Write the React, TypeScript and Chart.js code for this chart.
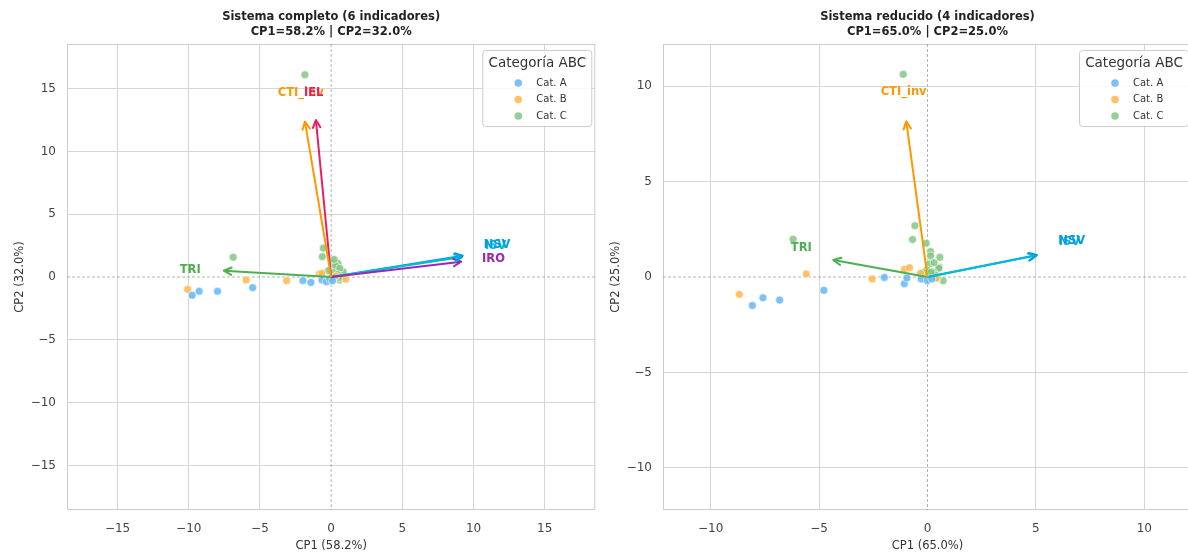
import React, { useEffect, useRef } from 'react';
import { Chart, registerables } from 'chart.js';

Chart.register(...registerables);

// ---------- shared ----------
const categories = ['Cat. A', 'Cat. B', 'Cat. C'];
const categoryColors = ['rgba(100,181,246,0.85)', 'rgba(255,183,77,0.85)', 'rgba(129,199,132,0.85)'];
const legendTitle = 'Categoría ABC';

// ---------- panel 1: sistema completo ----------
const fullTitle = ['Sistema completo (6 indicadores)', 'CP1=58.2% | CP2=32.0%'];
const fullXLabel = 'CP1 (58.2%)';
const fullYLabel = 'CP2 (32.0%)';
const fullLimit = 18.55;
const fullTicks = [-15, -10, -5, 0, 5, 10, 15];

const fullAX = [-9.76, -9.27, -7.98, -5.51, -1.98, -1.42, -0.65, -0.33, -0.1, 0.1];
const fullAY = [-1.46, -1.14, -1.14, -0.85, -0.29, -0.43, -0.24, -0.37, -0.15, -0.3];
const fullBX = [-10.08, -5.97, -3.12, -0.84, -0.65, 1.03, 0.3];
const fullBY = [-0.98, -0.24, -0.29, 0.24, 0.29, -0.18, 0.05];
const fullCX = [-1.84, -6.88, -0.55, -0.62, 0.21, 0.47, 0.33, 0.84, 0.61, 0.09, 0.3, 0.6, 0.15, 0.45, 0.75, -0.2, 0.2, 0.55];
const fullCY = [16.1, 1.57, 2.3, 1.62, 1.14, 1.09, 0.56, 0.42, -0.24, 0.16, 0.9, 0.7, 0.35, 0.2, -0.1, 0.5, 1.4, -0.05];

const fullLoadNames = ['CTI_inv', 'IEL', 'TRI', 'IRO', 'ISV', 'NSV'];
const fullLoadX = [-1.84, -1.07, -7.54, 9.13, 9.2, 9.24];
const fullLoadY = [12.37, 12.5, 0.5, 1.22, 1.6, 1.7];
const fullLabelX = [-2.14, -1.23, -9.9, 11.4, 11.55, 11.65];
const fullLabelY = [14.63, 14.63, 0.56, 1.43, 2.5, 2.55];
const fullLoadColors = ['#ff9800', '#e91e63', '#4caf50', '#9c27b0', '#00bcd4', '#039be5'];

// ---------- panel 2: sistema reducido ----------
const redTitle = ['Sistema reducido (4 indicadores)', 'CP1=65.0% | CP2=25.0%'];
const redXLabel = 'CP1 (65.0%)';
const redYLabel = 'CP2 (25.0%)';
const redLimit = 12.2;
const redTicks = [-10, -5, 0, 5, 10];

const redAX = [-8.08, -7.59, -6.82, -4.78, -1.99, -1.07, -0.95, -0.29, -0.01, 0.2];
const redAY = [-1.49, -1.09, -1.21, -0.7, -0.02, -0.35, -0.05, -0.1, -0.19, -0.1];
const redBX = [-8.68, -5.59, -2.55, -1.06, -0.83, -0.32, 0.4];
const redBY = [-0.91, 0.16, -0.1, 0.4, 0.49, 0.19, -0.05];
const redCX = [-1.12, -6.2, -0.58, -0.69, -0.06, 0.14, 0.14, 0.57, 0.08, 0.54, 0.52, 0.29, -0.02, -0.2, 0.35, 0.17, 0.72, 0.45, 0.3];
const redCY = [10.61, 1.98, 2.69, 1.96, 1.77, 1.33, 1.1, 1.03, 0.68, 0.51, 0.46, 0.23, 0.37, 0.23, 0.1, 0.26, -0.19, -0.07, 0.75];

const redLoadNames = ['CTI_inv', 'TRI', 'ISV', 'NSV'];
const redLoadX = [-0.98, -4.35, 5.0, 5.05];
const redLoadY = [8.15, 0.89, 1.12, 1.15];
const redLabelX = [-1.1, -5.82, 6.55, 6.65];
const redLabelY = [9.69, 1.5, 1.85, 1.9];
const redLoadColors = ['#ff9800', '#4caf50', '#00bcd4', '#039be5'];

const FONT = '"DejaVu Sans", "Liberation Sans", sans-serif';

type Panel = {
  title: string[];
  xLabel: string;
  yLabel: string;
  limit: number;
  ticks: number[];
  pts: { xs: number[]; ys: number[] }[];
  loadNames: string[];
  loadX: number[];
  loadY: number[];
  labelX: number[];
  labelY: number[];
  loadColors: string[];
  padRight: number;
  axisWidth: number;
};

const fullPanel: Panel = {
  title: fullTitle, xLabel: fullXLabel, yLabel: fullYLabel, limit: fullLimit, ticks: fullTicks,
  pts: [{ xs: fullAX, ys: fullAY }, { xs: fullBX, ys: fullBY }, { xs: fullCX, ys: fullCY }],
  loadNames: fullLoadNames, loadX: fullLoadX, loadY: fullLoadY, labelX: fullLabelX, labelY: fullLabelY,
  loadColors: fullLoadColors, padRight: 4, axisWidth: 67,
};

const redPanel: Panel = {
  title: redTitle, xLabel: redXLabel, yLabel: redYLabel, limit: redLimit, ticks: redTicks,
  pts: [{ xs: redAX, ys: redAY }, { xs: redBX, ys: redBY }, { xs: redCX, ys: redCY }],
  loadNames: redLoadNames, loadX: redLoadX, loadY: redLoadY, labelX: redLabelX, labelY: redLabelY,
  loadColors: redLoadColors, padRight: 8, axisWidth: 63,
};

function fmt(v: number) {
  return v < 0 ? '\u2212' + Math.abs(v) : String(v);
}

function makePlugin(p: Panel) {
  return {
    id: 'biplotDecor',
    beforeDatasetsDraw(chart: any) {
      const { ctx, chartArea: a, scales } = chart;
      const x0 = scales.x.getPixelForValue(0);
      const y0 = scales.y.getPixelForValue(0);
      ctx.save();
      ctx.strokeStyle = '#cccccc';
      ctx.lineWidth = 1;
      ctx.strokeRect(a.left + 0.5, a.top + 0.5, a.right - a.left - 1, a.bottom - a.top - 1);
      ctx.strokeStyle = 'rgba(128,128,128,0.75)';
      ctx.lineWidth = 0.8;
      ctx.setLineDash([3, 2]);
      ctx.beginPath();
      ctx.moveTo(x0, a.top);
      ctx.lineTo(x0, a.bottom);
      ctx.moveTo(a.left, y0);
      ctx.lineTo(a.right, y0);
      ctx.stroke();
      ctx.restore();
    },
    afterDatasetsDraw(chart: any) {
      const { ctx, scales } = chart;
      const bx = scales.x.getPixelForValue(0);
      const by = scales.y.getPixelForValue(0);
      ctx.save();
      // arrowheads
      p.loadNames.forEach((_n, i) => {
        const tx = scales.x.getPixelForValue(p.loadX[i]);
        const ty = scales.y.getPixelForValue(p.loadY[i]);
        const ang = Math.atan2(ty - by, tx - bx);
        const L = 8.5;
        const th = 0.45;
        ctx.strokeStyle = p.loadColors[i];
        ctx.lineWidth = 2;
        ctx.lineCap = 'round';
        ctx.lineJoin = 'round';
        ctx.beginPath();
        ctx.moveTo(tx - L * Math.cos(ang - th), ty - L * Math.sin(ang - th));
        ctx.lineTo(tx, ty);
        ctx.lineTo(tx - L * Math.cos(ang + th), ty - L * Math.sin(ang + th));
        ctx.stroke();
      });
      // labels
      ctx.font = 'bold 11.5px ' + FONT;
      ctx.textAlign = 'center';
      ctx.textBaseline = 'middle';
      p.loadNames.forEach((n, i) => {
        ctx.fillStyle = p.loadColors[i];
        ctx.fillText(n, scales.x.getPixelForValue(p.labelX[i]), scales.y.getPixelForValue(p.labelY[i]));
      });
      ctx.restore();
    },
    afterDraw(chart: any) {
      const { ctx, chartArea: a } = chart;
      const cx = (a.left + a.right) / 2;
      const cy = (a.top + a.bottom) / 2;
      ctx.save();
      // title
      ctx.fillStyle = '#222';
      ctx.font = 'bold 11.5px ' + FONT;
      ctx.textAlign = 'center';
      ctx.textBaseline = 'middle';
      ctx.fillText(p.title[0], cx, 17);
      ctx.fillText(p.title[1], cx, 32);
      // axis titles
      ctx.fillStyle = '#333';
      ctx.font = '11.5px ' + FONT;
      ctx.fillText(p.xLabel, cx, 546);
      ctx.save();
      ctx.translate(a.left - 47, cy);
      ctx.rotate(-Math.PI / 2);
      ctx.fillText(p.yLabel, 0, 0);
      ctx.restore();
      // legend
      const bw = 109;
      const bh = 76;
      const lx = a.right - 113;
      const ly = a.top + 6;
      ctx.fillStyle = 'rgba(255,255,255,0.85)';
      ctx.strokeStyle = '#cccccc';
      ctx.lineWidth = 1;
      ctx.beginPath();
      (ctx as any).roundRect(lx + 0.5, ly + 0.5, bw, bh, 3);
      ctx.fill();
      ctx.stroke();
      ctx.fillStyle = '#333';
      ctx.font = '13.5px ' + FONT;
      ctx.textAlign = 'center';
      ctx.fillText(legendTitle, lx + bw / 2 + 0.5, ly + 13);
      ctx.textAlign = 'left';
      ctx.font = '10px ' + FONT;
      categories.forEach((c, i) => {
        const yy = ly + 33 + i * 16.5;
        ctx.fillStyle = categoryColors[i];
        ctx.beginPath();
        ctx.arc(lx + 36, yy, 3.8, 0, Math.PI * 2);
        ctx.fill();
        ctx.fillStyle = '#333';
        ctx.fillText(c, lx + 54, yy);
      });
      ctx.restore();
    },
  };
}

function Biplot({ panel, left }: { panel: Panel; left: number }) {
  const ref = useRef<HTMLCanvasElement | null>(null);
  useEffect(() => {
    if (!ref.current) return;
    const p = panel;
    const arrowSets = p.loadNames.map((n, i) => ({
      label: n,
      data: [{ x: 0, y: 0 }, { x: p.loadX[i], y: p.loadY[i] }],
      showLine: true,
      borderColor: p.loadColors[i],
      borderWidth: 2,
      pointRadius: 0,
      order: 0,
    }));
    const pointSets = categories.map((c, k) => ({
      label: c,
      data: p.pts[k].xs.map((x, j) => ({ x, y: p.pts[k].ys[j] })),
      backgroundColor: categoryColors[k],
      borderColor: 'rgba(255,255,255,0.9)',
      borderWidth: 0.7,
      pointRadius: 4,
      order: 1,
    }));
    const tickFont = { family: FONT, size: 12 };
    const gridColor = (ctx: any) => (ctx.tick && ctx.tick.value === 0 ? 'rgba(0,0,0,0)' : '#d6d6d6');
    const chart = new Chart(ref.current, {
      type: 'scatter',
      data: { datasets: [...pointSets, ...arrowSets] as any },
      options: {
        animation: false,
        responsive: false,
        devicePixelRatio: 1,
        events: [],
        layout: { padding: { left: 0, right: p.padRight, top: 44, bottom: 0 } },
        plugins: { legend: { display: false }, tooltip: { enabled: false }, title: { display: false } },
        scales: {
          x: {
            type: 'linear',
            min: -p.limit,
            max: p.limit,
            afterFit: (s: any) => { s.height = 44; },
            afterBuildTicks: (s: any) => { s.ticks = p.ticks.map((v) => ({ value: v })); },
            ticks: { font: tickFont, color: '#444', padding: 12, callback: (v: any) => fmt(Number(v)), maxRotation: 0 },
            grid: { color: gridColor, drawTicks: false, lineWidth: 1 },
            border: { display: false },
          },
          y: {
            type: 'linear',
            min: -p.limit,
            max: p.limit,
            afterFit: (s: any) => { s.width = p.axisWidth; },
            afterBuildTicks: (s: any) => { s.ticks = p.ticks.map((v) => ({ value: v })); },
            ticks: { font: tickFont, color: '#444', padding: 11, callback: (v: any) => fmt(Number(v)) },
            grid: { color: gridColor, drawTicks: false, lineWidth: 1 },
            border: { display: false },
          },
        },
      } as any,
      plugins: [makePlugin(p)],
    });
    return () => chart.destroy();
  }, [panel]);
  return (
    <canvas
      ref={ref}
      width={600}
      height={554}
      style={{ position: 'absolute', left, top: 0, width: 600, height: 554 }}
    />
  );
}

export default function App() {
  return (
    <div
      style={{
        position: 'absolute',
        left: 0,
        top: 0,
        width: 1188,
        height: 554,
        overflow: 'hidden',
        background: '#fff',
      }}
    >
      <Biplot panel={fullPanel} left={0} />
      <Biplot panel={redPanel} left={600} />
    </div>
  );
}
